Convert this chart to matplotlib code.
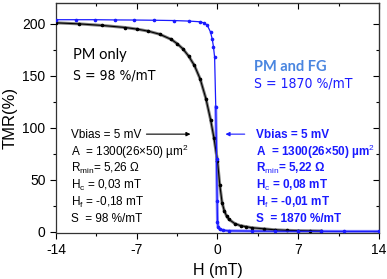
import matplotlib
matplotlib.use("Agg")
import matplotlib.pyplot as plt
from matplotlib import font_manager
from matplotlib.ticker import MultipleLocator

# ---- data ----
# PM only (black)
h_pm = [-14, -12, -10, -8, -7, -6, -5, -4, -3.5, -3, -2.5, -2, -1.5, -1.0,
        -0.6, -0.3, 0.0, 0.2, 0.4, 0.6, 0.8, 1.0, 1.5, 2.0, 2.5, 3.0, 4.0,
        5.0, 6.0, 7.0, 8.0, 9.0]
tmr_pm = [201, 200, 198.5, 196.5, 195, 193, 190, 185, 181, 176, 169, 160,
          147, 128, 108, 90, 68, 45, 28, 20, 15, 12, 8, 6, 5, 4, 3,
          2, 1.5, 1.2, 1, 0.8]

# PM and FG (blue)
h_fg = [-14, -12.3, -10.6, -8.9, -7.2, -5.5, -3.8, -2.5, -1.5, -1.2, -0.9,
        -0.6, -0.45, -0.35, -0.25, -0.15, -0.08, -0.03, 0.0, 0.05, 0.2, 0.5,
        1.0, 3.0, 5.0, 7.0, 9.0, 11.0, 14.0]
tmr_fg = [204, 204, 204, 203.8, 203.7, 203.5, 203.2, 202.7, 202, 201, 199,
          192, 185, 178, 168, 120, 70, 30, 10, 5, 2.5, 1.5,
          1, 0.8, 0.7, 0.6, 0.6, 0.5, 0.5]

xticks = [-14, -7, 0, 7, 14]
yticks = [0, 50, 100, 150, 200]

left_lines = ["A  = 1300(26\u00d750) \u00b5m$^{2}$",
              "R$_{min}$= 5,26 \u03a9",
              "H$_{c}$ = 0,03 mT",
              "H$_{f}$ = -0,18 mT",
              "S  = 98 %/mT"]
right_lines = ["A  = 1300(26\u00d750) \u00b5m$^{2}$",
               "R$_{min}$= 5,22 \u03a9",
               "H$_{c}$ = 0,08 mT",
               "H$_{f}$ = -0,01 mT",
               "S  = 1870 %/mT"]
line_y = [76.5, 61, 45, 28.5, 12.5]

# a condensed face for the big "S = ..." labels, if one is installed
fonts = font_manager.fontManager.ttflist
narrow_family, narrow_stretch = 'Liberation Sans', 'normal'
for f in fonts:
    if f.name == 'Liberation Sans Narrow':
        narrow_family, narrow_stretch = f.name, 'normal'
        break
else:
    for f in fonts:
        if f.name == 'DejaVu Sans' and f.stretch == 'condensed':
            narrow_family, narrow_stretch = 'DejaVu Sans', 'condensed'
            break
narrow_size = 10 if narrow_family != 'Liberation Sans' else 9

plt.rcParams['font.family'] = ['Liberation Sans', 'DejaVu Sans']
plt.rcParams['axes.unicode_minus'] = False
plt.rcParams['mathtext.fontset'] = 'custom'
plt.rcParams['mathtext.rm'] = 'Liberation Sans'
plt.rcParams['mathtext.it'] = 'Liberation Sans'
plt.rcParams['mathtext.bf'] = 'Liberation Sans:bold'

BLUE = "#1a1aff"
LIGHTBLUE = "#8c8cff"

fig = plt.figure(figsize=(3.87, 2.79), dpi=100)
ax = fig.add_axes([0.1447, 0.165, 0.8346, 0.824])

# lighter return branch, only visible along the step and the baseline
ax.plot(h_fg[15:], tmr_fg[15:], color=LIGHTBLUE, lw=2.2, zorder=2)
ax.plot(h_pm, tmr_pm, color="#808080", lw=2.2, zorder=3)
ax.plot(h_pm, tmr_pm, color="black", lw=0.8, marker='o', ms=1.6, zorder=4)
ax.plot(h_fg, tmr_fg, color=BLUE, lw=0.9, marker='o', ms=1.6, zorder=5)

ax.set_xlim(-14, 14)
ax.set_ylim(-1, 220)
ax.set_xticks(xticks)
ax.set_yticks(yticks)
ax.xaxis.set_minor_locator(MultipleLocator(3.5))
ax.yaxis.set_minor_locator(MultipleLocator(25))
ax.tick_params(which='both', direction='out', labelsize=10, width=0.8,
               top=False, right=False)
ax.tick_params(which='major', length=4)
ax.tick_params(which='minor', length=2.5)
sx = ax.secondary_xaxis('top')
sx.set_xticks(xticks)
sx.xaxis.set_minor_locator(MultipleLocator(3.5))
sx.tick_params(which='both', direction='in', labeltop=False, width=0.8)
sx.tick_params(which='major', length=4)
sx.tick_params(which='minor', length=2.5)
sy = ax.secondary_yaxis('right')
sy.set_yticks(yticks)
sy.yaxis.set_minor_locator(MultipleLocator(25))
sy.tick_params(which='both', direction='in', labelright=False, width=0.8)
sy.tick_params(which='major', length=4)
sy.tick_params(which='minor', length=2.5)
for s in ax.spines.values():
    s.set_linewidth(0.9)
    s.set_color("#333333")

ax.set_xlabel("H (mT)", fontsize=11.5, labelpad=4)
ax.set_ylabel("TMR(%)", fontsize=12, labelpad=3)

# headline labels
ax.text(-12.5, 170, "PM only", fontsize=10.5, family=['Lato', 'DejaVu Sans'],
        va='center', ha='left')
ax.text(-12.5, 150, "S = 98 %/mT", fontsize=narrow_size, family=narrow_family,
        fontstretch=narrow_stretch, va='center', ha='left')
ax.text(3.2, 159, "PM and FG", fontsize=10.5, family=['Lato', 'DejaVu Sans'],
        color="#4a86e0", fontweight='bold', va='center', ha='left')
ax.text(3.2, 142.5, "S = 1870 %/mT", fontsize=narrow_size, family=narrow_family,
        fontstretch=narrow_stretch, color=BLUE, va='center', ha='left')

# parameter blocks
ax.text(-12.7, 93, "Vbias = 5 mV", fontsize=8.5, va='center', ha='left')
ax.annotate("", xy=(-2.1, 94), xytext=(-6.4, 94),
            arrowprops=dict(arrowstyle='-|>', color='black', lw=0.8,
                            mutation_scale=6))
ax.text(3.35, 93, "Vbias = 5 mV", fontsize=8.5, color=BLUE, fontweight='bold',
        va='center', ha='left')
ax.annotate("", xy=(0.45, 94), xytext=(2.6, 94),
            arrowprops=dict(arrowstyle='-|>', color=BLUE, lw=0.8,
                            mutation_scale=6))
for txt, y in zip(left_lines, line_y):
    ax.text(-12.7, y, txt, fontsize=8.5, va='center', ha='left')
for txt, y in zip(right_lines, line_y):
    ax.text(3.35, y, txt, fontsize=8.5, color=BLUE, fontweight='bold',
            va='center', ha='left')

fig.savefig("out.png", dpi=100)
